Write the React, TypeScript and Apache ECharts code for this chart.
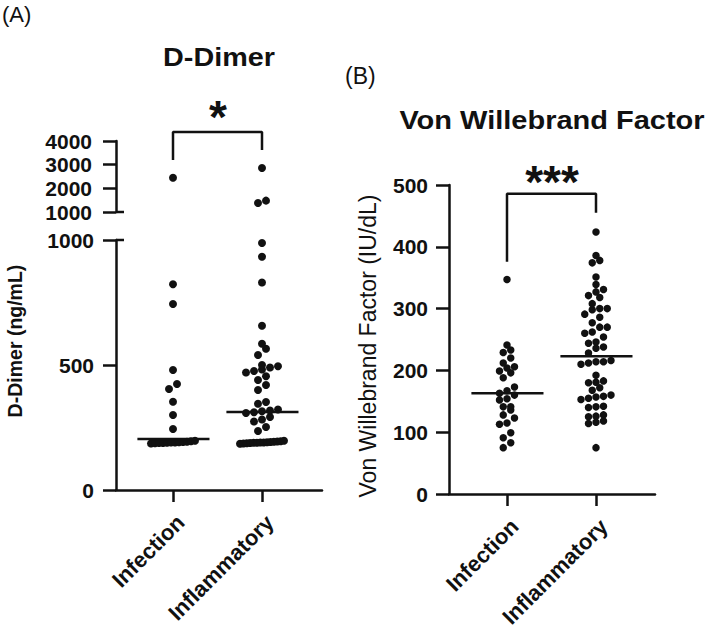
import React, { useEffect, useRef } from "react";
import * as echarts from "echarts";

// ---------------- data ----------------
const groups = ["Infection", "Inflammatory"];

// D-Dimer (ng/mL)
const ddimerInfection = [
  2450, 823, 744, 480, 424, 404, 353, 300, 244,
  197, 195, 193, 192, 191, 190, 190, 189, 188, 188, 187, 186,
];
const ddimerInflammatory = [
  2860, 1480, 1380, 988, 933, 830, 657, 585, 565, 540, 500, 495, 490, 482,
  476, 470, 455, 440, 420, 400, 352, 345, 322, 318, 315, 311, 308, 292, 282,
  274, 252, 236, 197, 195, 194, 193, 192, 191, 190, 190, 189, 189, 188, 187,
  186, 185,
];
const ddimerMedians = [204, 312];
const ddimerBreak = 1000;
const ddimerUpperTicks = [1000, 4000, 1000]; // min, max, interval
const ddimerLowerTicks = [0, 1000, 500];
const ddimerBracket = [3200, 4380, 3620]; // left foot, top, right foot
const ddimerSignif = "*";

// Von Willebrand Factor (IU/dL)
const vwfInfection = [
  347, 241, 233, 229, 220, 212, 206, 204, 199, 196, 188, 173, 167, 163, 160,
  154, 152, 141, 141, 136, 128, 123, 115, 113, 99, 91, 83, 75,
];
const vwfInflammatory = [
  424, 386, 378, 374, 351, 339, 331, 327, 321, 318, 308, 300, 300, 298, 291,
  286, 277, 270, 270, 262, 260, 254, 246, 244, 238, 236, 228, 216, 214, 214,
  212, 210, 192, 183, 181, 180, 172, 168, 160, 158, 157, 155, 153, 142, 141,
  140, 128, 126, 125, 118, 116, 114, 75,
];
const vwfMedians = [163, 223];
const vwfTicks = [0, 500, 100];
const vwfBracket = [376, 486, 455];
const vwfSignif = "***";

// ---------------- layout ----------------
const FONT = '"Liberation Sans", Arial, Helvetica, sans-serif';
const INK = "#111";
const LW = 2.5;
const X_PX = 89; // pixels between the two group positions
const A_LEFT = 116, A_W = 206;
const A_UP_TOP = 141, A_UP_H = 71;
const A_LO_TOP = 240, A_LO_H = 250;
const B_LEFT = 449, B_TOP = 185, B_H = 309, B_W = 206;
const A_XMIN = 1 - (173 - A_LEFT) / X_PX;
const B_XMIN = 1 - (507 - B_LEFT) / X_PX;

function swarm(values: number[], cat: number, pxPerY: number, d: number, maxHalf: number) {
  const sorted = [...values].sort((a, b) => a - b);
  const rows: number[][] = [];
  let cur: number[] = [];
  for (const v of sorted) {
    if (cur.length && (v - cur[0]) * pxPerY >= d * 0.85) {
      rows.push(cur);
      cur = [v];
    } else cur.push(v);
  }
  if (cur.length) rows.push(cur);
  const out: number[][] = [];
  rows.forEach((row) => {
    const n = row.length;
    const sp = n > 1 ? Math.min(d, (2 * maxHalf) / (n - 1)) : 0;
    row.forEach((v, i) => out.push([cat + ((i - (n - 1) / 2) * sp) / X_PX, v]));
  });
  return out;
}

const lineStyle = { color: INK, width: LW };
const labelStyle = { color: INK, fontSize: 21, fontWeight: "bold", fontFamily: FONT };

function yAxis(gridIndex: number, t: number[], margin: number) {
  return {
    type: "value", gridIndex, min: t[0], max: t[1], interval: t[2],
    axisLine: { show: true, lineStyle },
    axisTick: { show: true, length: 13, lineStyle },
    axisLabel: { ...labelStyle, margin, formatter: (v: number) => String(v) },
    splitLine: { show: false },
  };
}
function xAxis(gridIndex: number, min: number, show: boolean) {
  return {
    type: "value", gridIndex, min, max: min + A_W / X_PX, show,
    axisLine: { show: true, onZero: false, lineStyle },
    axisTick: { show: true, length: 12, customValues: [1, 2], lineStyle },
    axisLabel: {
      ...labelStyle, fontSize: 22, customValues: [1, 2], rotate: 45, align: "right",
      verticalAlign: "top", margin: 21,
      formatter: (v: number) => groups[Math.round(v) - 1] ?? "",
    },
    splitLine: { show: false },
  };
}

function medianSeries(meds: number[], axis: number) {
  return meds.map((m, i) => ({
    type: "line", xAxisIndex: axis, yAxisIndex: axis, symbol: "none", silent: true, z: 3,
    lineStyle: { color: INK, width: LW },
    data: [[i + 1 - 0.4, m], [i + 1 + 0.41, m]],
  }));
}
function bracketSeries(b: number[], axis: number) {
  return {
    type: "line", xAxisIndex: axis, yAxisIndex: axis, symbol: "none", silent: true, clip: false,
    lineStyle: { color: INK, width: LW }, z: 3,
    data: [[1, b[0]], [1, b[1]], [2, b[1]], [2, b[2]]],
  };
}
function scatter(data: number[][], axis: number, size: number) {
  return {
    type: "scatter", xAxisIndex: axis, yAxisIndex: axis, symbol: "circle", symbolSize: size,
    itemStyle: { color: INK, opacity: 1 }, clip: false, data,
  };
}
function txt(text: string, x: number, y: number, size: number, weight: string, extra: any = {}) {
  return {
    type: "text", x, y, ...extra,
    style: {
      text, fill: INK, fontSize: size, fontWeight: weight, fontFamily: FONT,
      align: extra.align ?? "center", verticalAlign: extra.va ?? "middle",
      textAlign: extra.align ?? "center", textVerticalAlign: extra.va ?? "middle",
    },
  };
}

export default function App() {
  const ref = useRef<HTMLDivElement>(null);
  useEffect(() => {
    if (!ref.current) return;
    const chart = echarts.init(ref.current, undefined, { renderer: "svg" });
    const upPx = A_UP_H / (ddimerUpperTicks[1] - ddimerUpperTicks[0]);
    const loPx = A_LO_H / (ddimerLowerTicks[1] - ddimerLowerTicks[0]);
    const bPx = B_H / (vwfTicks[1] - vwfTicks[0]);
    const ddUpper: number[][] = [];
    const ddLower: number[][] = [];
    [ddimerInfection, ddimerInflammatory].forEach((vals, i) => {
      ddUpper.push(...swarm(vals.filter((v) => v > ddimerBreak), i + 1, upPx, 8, 22));
      ddLower.push(...swarm(vals.filter((v) => v <= ddimerBreak), i + 1, loPx, 8, 22));
    });
    const vwf: number[][] = [];
    [vwfInfection, vwfInflammatory].forEach((vals, i) => {
      vwf.push(...swarm(vals, i + 1, bPx, 7.5, 24));
    });
    const capY1 = A_UP_TOP + A_UP_H, capY2 = A_LO_TOP;
    chart.setOption({
      animation: false,
      grid: [
        { left: A_LEFT, top: A_UP_TOP, width: A_W, height: A_UP_H, outerBoundsMode: "none" },
        { left: A_LEFT, top: A_LO_TOP, width: A_W, height: A_LO_H, outerBoundsMode: "none" },
        { left: B_LEFT, top: B_TOP, width: B_W, height: B_H, outerBoundsMode: "none" },
      ],
      xAxis: [xAxis(0, A_XMIN, false), xAxis(1, A_XMIN, true), xAxis(2, B_XMIN, true)],
      yAxis: [yAxis(0, ddimerUpperTicks, 24), yAxis(1, ddimerLowerTicks, 22), yAxis(2, vwfTicks, 21)],
      series: [
        scatter(ddUpper, 0, 8),
        scatter(ddLower, 1, 8),
        ...medianSeries(ddimerMedians, 1),
        bracketSeries(ddimerBracket, 0),
        scatter(vwf, 2, 7.5),
        ...medianSeries(vwfMedians, 2),
        bracketSeries(vwfBracket, 2),
      ],
      graphic: [
        txt("(A)", 2, 3, 22, "normal", { align: "left", va: "top" }),
        txt("(B)", 345, 64, 23, "normal", { align: "left", va: "top" }),
        txt("D-Dimer", 219, 58, 25, "bold", { scaleX: 1.15 }),
        txt("Von Willebrand Factor", 552, 120, 25, "bold", { scaleX: 1.16 }),
        txt(ddimerSignif, 218, 117, 46, "bold"),
        txt(vwfSignif, 552, 182, 46, "bold"),
        txt("D-Dimer (ng/mL)", 15, 341, 19.5, "bold", { rotation: Math.PI / 2 }),
        txt("Von Willebrand Factor (IU/dL)", 368, 346, 23, "normal", { rotation: Math.PI / 2 }),
        { type: "line", shape: { x1: A_LEFT, y1: capY1, x2: A_LEFT + 8, y2: capY1 }, style: { stroke: INK, lineWidth: LW } },
        { type: "line", shape: { x1: A_LEFT, y1: capY2, x2: A_LEFT + 8, y2: capY2 }, style: { stroke: INK, lineWidth: LW } },
      ],
    });
    return () => chart.dispose();
  }, []);
  return (
    <div
      ref={ref}
      style={{ position: "fixed", left: 0, top: 0, width: 708, height: 634, background: "#fff" }}
    />
  );
}
